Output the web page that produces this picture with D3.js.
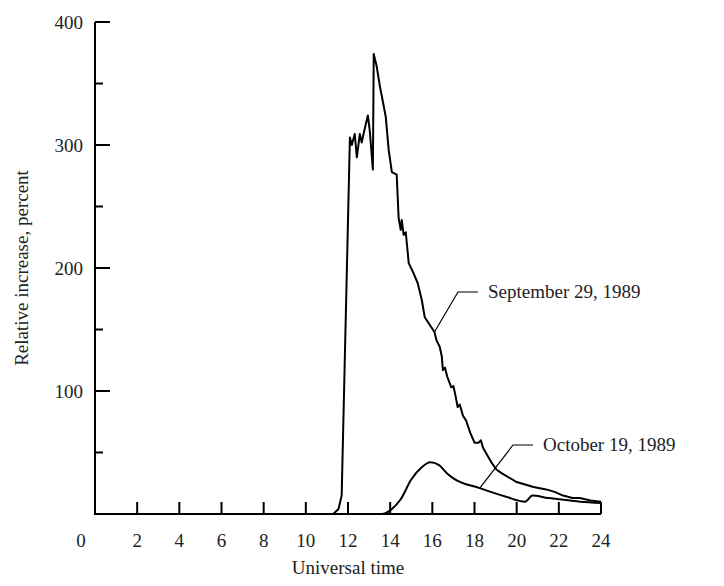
<!DOCTYPE html>
<html>
<head>
<meta charset="utf-8">
<script src="https://cdn.jsdelivr.net/npm/d3@7"></script>
<style>
  body { margin: 0; background: #fff; }
  text { font-family: "Liberation Serif", "Times New Roman", serif; fill: #222; }
</style>
</head>
<body>
<div id="chart"></div>
<script>
// hours (UT) and relative increase, percent
var sepTime = [0, 11.3, 11.55, 11.7, 12.09, 12.18, 12.32, 12.42, 12.56, 12.65, 12.75, 12.94, 13.03, 13.18, 13.22,
    13.36, 13.51, 13.6, 13.79, 13.93, 14.08, 14.31, 14.4, 14.5, 14.55, 14.64, 14.74, 14.88, 15.1, 15.3, 15.5,
    15.64, 16.1, 16.2, 16.35, 16.45, 16.5, 16.6, 16.7, 16.9, 17.0, 17.1, 17.2, 17.3, 17.45, 17.6, 17.8, 18.0,
    18.2, 18.3, 18.4, 18.6, 18.8, 19.05, 19.3, 19.6, 20.0, 20.4, 20.8, 21.4, 21.8, 22.2, 22.65, 23.0, 23.5, 24];
var sepValue = [0, 0, 4, 15, 306, 300, 309, 290, 309, 302, 310, 324, 312, 280, 374,
    364, 348, 340, 323, 296, 278, 276, 241, 231, 239, 227, 229, 204, 196, 188, 174,
    160, 148, 141, 136, 128, 117, 119, 112, 103, 104, 96, 87, 89, 80, 76, 66, 58,
    58, 60, 54, 48, 42, 36, 33, 30, 26, 24, 22, 20, 18, 15, 13, 13, 11, 10];

var octTime = [0, 13.6, 14.0, 14.5, 15.0, 15.5, 15.9, 16.3, 16.7, 17.0, 18.25, 19.5, 20.4, 20.75, 21.5, 22, 23, 24];
var octValue = [0, 0, 3, 12, 28, 38, 42, 40, 33, 29, 21, 14, 10, 15, 13, 12, 10, 9];

var xTicks = d3.range(0, 25, 2);
var yTicks = [100, 200, 300, 400];
var yMinor = [50, 150, 250, 350];

var width = 724, height = 586;
var x = d3.scaleLinear().domain([0, 24]).range([95, 601]);
var y = d3.scaleLinear().domain([0, 400]).range([514, 22]);

var svg = d3.select("#chart").append("svg")
    .attr("width", width)
    .attr("height", height);

// axes lines
svg.append("path")
    .attr("d", `M${x(0)},${y(400)}V${y(0)}H${x(24)}`)
    .attr("fill", "none").attr("stroke", "#000").attr("stroke-width", 2);

// x ticks point up into plot
svg.selectAll(".xt").data(xTicks.filter(d => d > 0)).enter().append("line")
    .attr("x1", d => x(d)).attr("x2", d => x(d))
    .attr("y1", y(0)).attr("y2", y(0) - 12)
    .attr("stroke", "#000").attr("stroke-width", 2);
svg.selectAll(".xl").data(xTicks).enter().append("text")
    .attr("x", d => d === 0 ? x(0) - 14 : x(d))
    .attr("y", y(0) + 33)
    .attr("text-anchor", "middle")
    .attr("font-size", 19)
    .text(d => d);

// y ticks point right
svg.selectAll(".yt").data(yTicks).enter().append("line")
    .attr("x1", x(0)).attr("x2", x(0) + 15)
    .attr("y1", d => y(d)).attr("y2", d => y(d))
    .attr("stroke", "#000").attr("stroke-width", 2);
svg.selectAll(".ym").data(yMinor).enter().append("line")
    .attr("x1", x(0)).attr("x2", x(0) + 8)
    .attr("y1", d => y(d)).attr("y2", d => y(d))
    .attr("stroke", "#000").attr("stroke-width", 2);
svg.selectAll(".yl").data(yTicks).enter().append("text")
    .attr("x", x(0) - 12)
    .attr("y", d => y(d) + 7)
    .attr("text-anchor", "end")
    .attr("font-size", 19)
    .text(d => d);

svg.append("text")
    .attr("transform", `translate(28,${y(200)}) rotate(-90)`)
    .attr("text-anchor", "middle")
    .attr("font-size", 19)
    .text("Relative increase, percent");
svg.append("text")
    .attr("x", x(12)).attr("y", 574)
    .attr("text-anchor", "middle")
    .attr("font-size", 19)
    .text("Universal time");

var line = d3.line().x(d => x(d[0])).y(d => y(d[1]));
svg.append("path")
    .datum(d3.zip(sepTime, sepValue))
    .attr("d", line)
    .attr("fill", "none").attr("stroke", "#000").attr("stroke-width", 2)
    .attr("stroke-linejoin", "round");
svg.append("path")
    .datum(d3.zip(octTime, octValue))
    .attr("d", line.curve(d3.curveMonotoneX))
    .attr("fill", "none").attr("stroke", "#000").attr("stroke-width", 2);

// leader lines and labels
function leader(t, v, lx, ly, label) {
    svg.append("path")
        .attr("d", `M${x(t)},${y(v)}L${lx},${ly}h20`)
        .attr("fill", "none").attr("stroke", "#000").attr("stroke-width", 1.2);
    svg.append("text")
        .attr("x", lx + 30).attr("y", ly + 6)
        .attr("font-size", 19)
        .text(label);
}
leader(16.1, 148, 458, 292, "September 29, 1989");
leader(18.25, 21, 513, 445, "October 19, 1989");
</script>
</body>
</html>
